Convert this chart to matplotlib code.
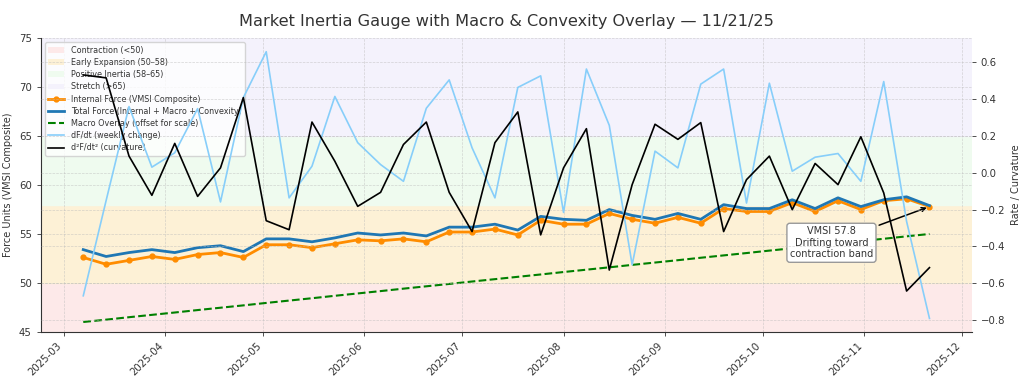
import matplotlib
matplotlib.use("Agg")
import matplotlib.pyplot as plt
import matplotlib.dates as mdates
from matplotlib.patches import Patch
import pandas as pd

plt.rcParams['font.family'] = ['DejaVu Sans']
plt.rcParams['text.color'] = '#333333'
plt.rcParams['axes.labelcolor'] = '#333333'
plt.rcParams['xtick.color'] = '#333333'
plt.rcParams['ytick.color'] = '#333333'

# weekly readings, 2025-03-07 .. 2025-11-21
dates = pd.date_range("2025-03-07", "2025-11-21", freq="7D")

internal = [52.6, 51.9, 52.3, 52.7, 52.4, 52.9, 53.1, 52.6, 53.9, 53.9,
            53.6, 54.0, 54.4, 54.3, 54.5, 54.2, 55.2, 55.2, 55.5, 54.9,
            56.4, 56.0, 56.0, 57.1, 56.5, 56.1, 56.7, 56.1, 57.6, 57.3,
            57.3, 58.2, 57.3, 58.4, 57.5, 58.4, 58.6, 57.8]
total = [53.4, 52.7, 53.1, 53.4, 53.1, 53.6, 53.8, 53.2, 54.5, 54.5,
         54.2, 54.6, 55.1, 54.9, 55.1, 54.8, 55.7, 55.7, 56.0, 55.4,
         56.8, 56.5, 56.4, 57.5, 56.9, 56.5, 57.1, 56.5, 58.0, 57.6,
         57.6, 58.5, 57.6, 58.7, 57.8, 58.5, 58.8, 57.9]
macro = [46.00, 46.24, 46.49, 46.73, 46.97, 47.22, 47.46, 47.70, 47.95, 48.19,
         48.43, 48.68, 48.92, 49.16, 49.41, 49.65, 49.89, 50.14, 50.38, 50.62,
         50.86, 51.11, 51.35, 51.59, 51.84, 52.08, 52.32, 52.57, 52.81, 53.05,
         53.30, 53.54, 53.78, 54.03, 54.27, 54.51, 54.76, 55.00]
dfdt = [-0.668, -0.150, 0.360, 0.031, 0.109, 0.349, -0.158, 0.409, 0.658, -0.136,
        0.036, 0.415, 0.164, 0.045, -0.046, 0.351, 0.505, 0.136, -0.136, 0.464,
        0.527, -0.215, 0.564, 0.258, -0.500, 0.118, 0.027, 0.482, 0.564, -0.164,
        0.487, 0.009, 0.085, 0.105, -0.046, 0.496, -0.264, -0.791]
d2fdt2 = [0.532, 0.516, 0.091, -0.122, 0.160, -0.128, 0.027, 0.409, -0.260, -0.309,
          0.276, 0.063, -0.182, -0.106, 0.154, 0.276, -0.106, -0.319, 0.164, 0.331,
          -0.337, 0.027, 0.240, -0.528, -0.064, 0.264, 0.182, 0.273, -0.319, -0.037,
          0.091, -0.200, 0.051, -0.064, 0.196, -0.109, -0.642, -0.515]

bands = [
    (45, 50, '#fde9e9', 'Contraction (<50)'),
    (50, 58, '#fdf1d6', 'Early Expansion (50–58)'),
    (58, 65, '#effbef', 'Positive Inertia (58–65)'),
    (65, 75, '#f4f2fc', 'Stretch (>65)'),
]

fig, ax = plt.subplots(figsize=(10.24, 3.84), dpi=100)
fig.subplots_adjust(left=0.040, right=0.949, top=0.900, bottom=0.136)

band_handles = []
for lo, hi, col, lab in bands:
    ax.axhspan(lo, hi, color=col, zorder=0)
    band_handles.append(Patch(facecolor=col, edgecolor='none', label=lab))

l1, = ax.plot(dates, internal, color='#ff8c00', lw=2, marker='o', ms=3.5,
              label='Internal Force (VMSI Composite)')
l2, = ax.plot(dates, total, color='#1f77b4', lw=2,
              label='Total Force (Internal + Macro + Convexity)')
l3, = ax.plot(dates, macro, color='green', lw=1.5, ls='--',
              label='Macro Overlay (offset for scale)')
ax.set_ylim(45, 75)
ax.set_ylabel('Force Units (VMSI Composite)', fontsize=7)
ax.grid(True, ls='--', lw=0.5, color='#bbbbbb', alpha=0.6)

ax2 = ax.twinx()
l4, = ax2.plot(dates, dfdt, color='lightskyblue', lw=1.2, label='dF/dt (weekly change)')
l5, = ax2.plot(dates, d2fdt2, color='black', lw=1.2, label='d²F/dt² (curvature)')
ax2.set_ylabel('Rate / Curvature', fontsize=7)
ax2.grid(True, ls='--', lw=0.5, color='#bbbbbb', alpha=0.6)

for a in (ax, ax2):
    a.spines['top'].set_visible(False)
    a.spines['right'].set_visible(False)
    a.tick_params(labelsize=7.3, length=3, width=0.6)
ax.spines['left'].set_color('#333333')
ax.spines['bottom'].set_color('#333333')
ax2.spines['left'].set_visible(False)
ax2.spines['bottom'].set_visible(False)

ax.xaxis.set_major_locator(mdates.MonthLocator())
ax.xaxis.set_major_formatter(mdates.DateFormatter('%Y-%m'))
for t in ax.get_xticklabels():
    t.set_rotation(45)
    t.set_ha('right')

ax.legend(handles=band_handles + [l1, l2, l3, l4, l5], loc='upper left',
          fontsize=5.8, labelspacing=0.4, framealpha=0.8)

ax.annotate('VMSI 57.8\nDrifting toward\ncontraction band',
            xy=(dates[-1], internal[-1]), xytext=(pd.Timestamp('2025-10-22'), 54.1),
            ha='center', va='center', fontsize=7,
            bbox=dict(boxstyle='round,pad=0.3', fc='white', ec='#999999'),
            arrowprops=dict(arrowstyle='->', color='black', lw=1.1))

ax.set_title('Market Inertia Gauge with Macro & Convexity Overlay — 11/21/25',
             fontsize=11.6, pad=9)

fig.savefig('out.png', dpi=100)
